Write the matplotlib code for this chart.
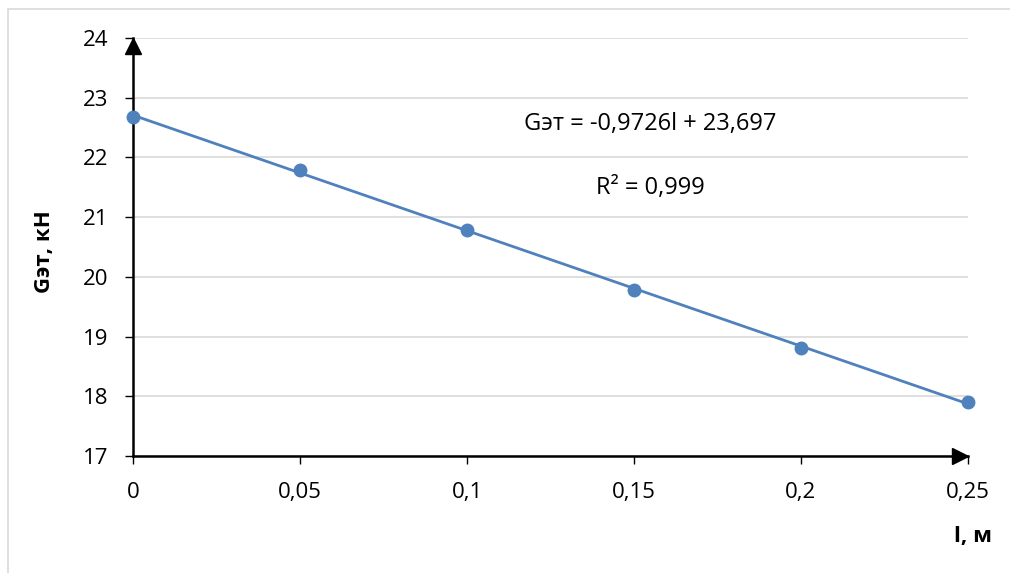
import numpy as np
import matplotlib
matplotlib.use('Agg')
import matplotlib.pyplot as plt
from matplotlib.patches import Rectangle
from matplotlib.transforms import offset_copy

plt.rcParams['font.family'] = ['Open Sans', 'Noto Sans', 'DejaVu Sans']

# data (l, m  ->  G, kN)
l_vals = [0, 0.05, 0.1, 0.15, 0.2, 0.25]
g_vals = [22.68, 21.79, 20.78, 19.78, 18.81, 17.90]
x_ticks = [0, 0.05, 0.1, 0.15, 0.2, 0.25]
x_tick_labels = ['0', '0,05', '0,1', '0,15', '0,2', '0,25']
y_ticks = [17, 18, 19, 20, 21, 22, 23, 24]
eq_text = 'Gэт = -0,9726l + 23,697'
r2_text = 'R² = 0,999'

blue = '#4f81bd'
grid_c = '#d9d9d9'

fig = plt.figure(figsize=(10.1, 5.73), dpi=100)
ax = fig.add_axes([0.1317, 0.2042, 0.8267, 0.7295])

# chart border
fig.add_artist(Rectangle((0.008, -0.2), 1.5, 1.1843, transform=fig.transFigure,
                         fill=False, edgecolor=grid_c, linewidth=1.2))

# trend line + markers
k, b = np.polyfit(l_vals, g_vals, 1)
xx = np.array([l_vals[0], l_vals[-1]])
ax.plot(xx, k * xx + b, color=blue, linewidth=2, zorder=3)
ax.plot(l_vals, g_vals, 'o', color=blue, markersize=9, clip_on=False, zorder=4)

ax.set_xlim(0, 0.25)
ax.set_ylim(17, 24)
ax.set_xticks(x_ticks)
ax.set_xticklabels(x_tick_labels)
ax.set_yticks(y_ticks)
ax.yaxis.grid(True, color=grid_c, linewidth=1.2)
ax.set_axisbelow(True)

for s in ['top', 'right']:
    ax.spines[s].set_visible(False)
for s in ['left', 'bottom']:
    ax.spines[s].set_linewidth(1.8)
    ax.spines[s].set_color('black')

ax.tick_params(axis='both', direction='out', length=6, width=1, labelsize=16)
ax.tick_params(axis='y', pad=12)
ax.tick_params(axis='x', pad=13)

# arrowheads (tip sits on the axis end)
ms = 12
up_tr = offset_copy(ax.transAxes, fig=fig, y=-ms / 2, units='points')
right_tr = offset_copy(ax.transAxes, fig=fig, x=-ms / 2, units='points')
ax.plot(0, 1, '^', color='black', markersize=ms, transform=up_tr, clip_on=False, zorder=5)
ax.plot(1, 0, '>', color='black', markersize=ms, transform=right_tr, clip_on=False, zorder=5)

ax.text(0.1548, 22.56, eq_text, fontsize=17, ha='center', va='center')
ax.text(0.1548, 21.49, r2_text, fontsize=17, ha='center', va='center')

fig.text(0.044, 0.56, 'Gэт, кН', rotation=90, fontsize=16, fontweight='bold',
         ha='center', va='center')
fig.text(0.963, 0.064, 'l, м', fontsize=16, fontweight='bold', ha='center', va='center')

fig.savefig('out.png', dpi=100)
